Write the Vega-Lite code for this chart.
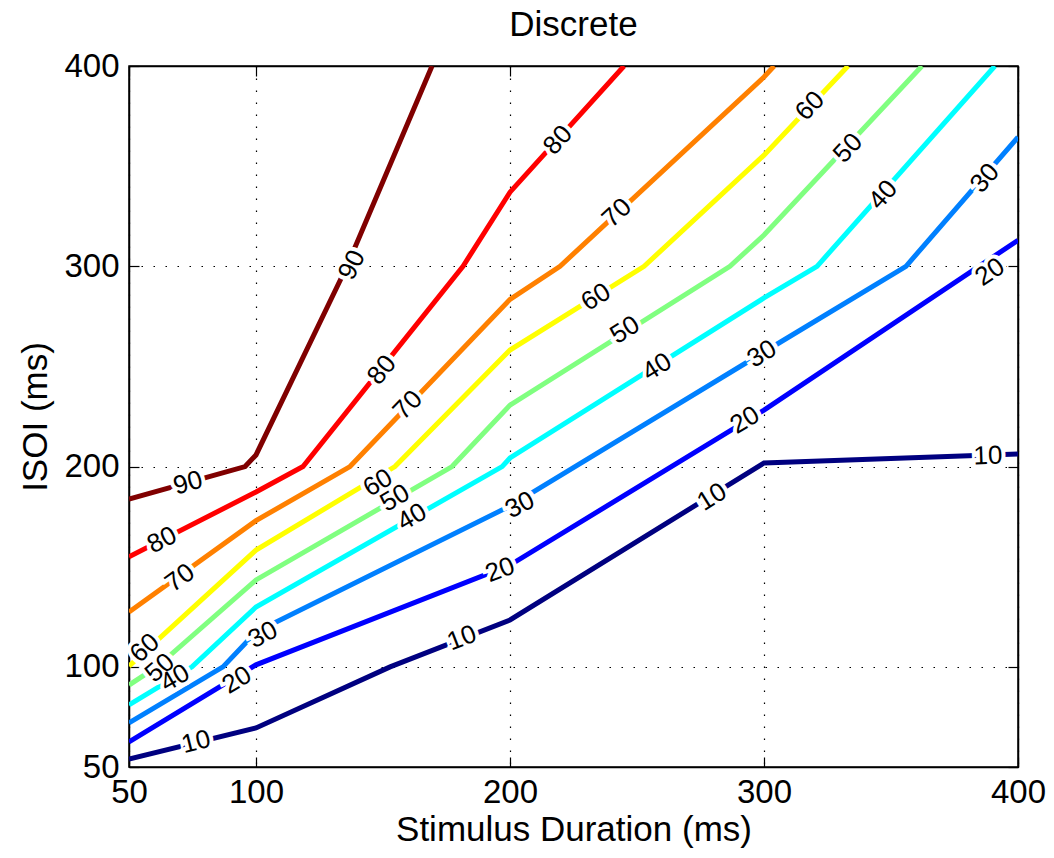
{
  "$schema": "https://vega.github.io/schema/vega-lite/v6.json",
  "width": 889,
  "height": 701,
  "autosize": {"type": "none"},
  "padding": {"left": 129, "top": 66, "right": 36, "bottom": 91},
  "background": "white",
  "title": {"text": "Discrete", "fontSize": 35, "font": "Liberation Sans", "fontWeight": "normal", "color": "black", "offset": 7},
  "config": {
    "view": {"stroke": "black", "strokeWidth": 1.5},
    "axis": {"domainColor": "black", "domainWidth": 1.5, "tickColor": "black", "labelColor": "black", "titleColor": "black", "labelFont": "Liberation Sans", "titleFont": "Liberation Sans", "titleFontWeight": "normal"}
  },
  "datasets": {
    "lines": [
      {"level": "90", "x": 50, "y": 183.8}, {"level": "90", "x": 95.7, "y": 200}, {"level": "90", "x": 100, "y": 205.8}, {"level": "90", "x": 135.8, "y": 300}, {"level": "90", "x": 169.3, "y": 400},
      {"level": "80", "x": 50, "y": 155}, {"level": "80", "x": 100, "y": 187.3}, {"level": "80", "x": 118.5, "y": 200}, {"level": "80", "x": 181.5, "y": 300}, {"level": "80", "x": 200, "y": 337}, {"level": "80", "x": 244.9, "y": 400},
      {"level": "70", "x": 50, "y": 127.4}, {"level": "70", "x": 100, "y": 173}, {"level": "70", "x": 137, "y": 200}, {"level": "70", "x": 200, "y": 283.5}, {"level": "70", "x": 219.7, "y": 300}, {"level": "70", "x": 300, "y": 394.5}, {"level": "70", "x": 304, "y": 400},
      {"level": "60", "x": 50, "y": 100.4}, {"level": "60", "x": 100, "y": 158.3}, {"level": "60", "x": 154.7, "y": 200}, {"level": "60", "x": 200, "y": 258.2}, {"level": "60", "x": 252.8, "y": 300}, {"level": "60", "x": 300, "y": 355.5}, {"level": "60", "x": 333.1, "y": 400},
      {"level": "50", "x": 50, "y": 90.9}, {"level": "50", "x": 61, "y": 100}, {"level": "50", "x": 100, "y": 143.4}, {"level": "50", "x": 177.2, "y": 200}, {"level": "50", "x": 200, "y": 230.7}, {"level": "50", "x": 286.6, "y": 300}, {"level": "50", "x": 300, "y": 315.6}, {"level": "50", "x": 362.2, "y": 400},
      {"level": "40", "x": 50, "y": 81}, {"level": "40", "x": 74.8, "y": 100}, {"level": "40", "x": 100, "y": 129.9}, {"level": "40", "x": 196.9, "y": 200}, {"level": "40", "x": 200, "y": 204.3}, {"level": "40", "x": 300, "y": 284.2}, {"level": "40", "x": 320.9, "y": 300}, {"level": "40", "x": 390.9, "y": 400},
      {"level": "30", "x": 50, "y": 72}, {"level": "30", "x": 87, "y": 100}, {"level": "30", "x": 100, "y": 117.4}, {"level": "30", "x": 200, "y": 180.3}, {"level": "30", "x": 300, "y": 257.2}, {"level": "30", "x": 355.9, "y": 300}, {"level": "30", "x": 400, "y": 364.5},
      {"level": "20", "x": 50, "y": 62.5}, {"level": "20", "x": 100, "y": 101}, {"level": "20", "x": 200, "y": 150.8}, {"level": "20", "x": 300, "y": 228.2}, {"level": "20", "x": 400, "y": 313},
      {"level": "10", "x": 50, "y": 54}, {"level": "10", "x": 100, "y": 69.5}, {"level": "10", "x": 152.8, "y": 100}, {"level": "10", "x": 200, "y": 123.4}, {"level": "10", "x": 300, "y": 201.8}, {"level": "10", "x": 400, "y": 206.3}
    ],
    "labels": [
      {"level": "90", "x": 73.2, "y": 191.8, "angle": -16},
      {"level": "90", "x": 137.8, "y": 300.6, "angle": -64},
      {"level": "80", "x": 63, "y": 163.3, "angle": -27},
      {"level": "80", "x": 149.6, "y": 248.2, "angle": -51},
      {"level": "80", "x": 218.9, "y": 363, "angle": -48},
      {"level": "70", "x": 70.1, "y": 144.4, "angle": -36},
      {"level": "70", "x": 159.8, "y": 230.7, "angle": -46},
      {"level": "70", "x": 242.1, "y": 326.6, "angle": -43},
      {"level": "60", "x": 56.3, "y": 109.4, "angle": -42},
      {"level": "60", "x": 148, "y": 191.8, "angle": -31},
      {"level": "60", "x": 233.9, "y": 284.6, "angle": -32},
      {"level": "60", "x": 318.1, "y": 380, "angle": -46},
      {"level": "50", "x": 62.2, "y": 99.4, "angle": -41},
      {"level": "50", "x": 154.7, "y": 184.3, "angle": -30},
      {"level": "50", "x": 245.3, "y": 268.2, "angle": -32},
      {"level": "50", "x": 333.1, "y": 359, "angle": -47},
      {"level": "40", "x": 68.1, "y": 94.4, "angle": -30},
      {"level": "40", "x": 161.4, "y": 174.8, "angle": -30},
      {"level": "40", "x": 257.9, "y": 249.7, "angle": -32},
      {"level": "40", "x": 346.9, "y": 335.6, "angle": -48},
      {"level": "30", "x": 102.8, "y": 115.9, "angle": -28},
      {"level": "30", "x": 203.9, "y": 180.8, "angle": -27},
      {"level": "30", "x": 299.2, "y": 256.2, "angle": -31},
      {"level": "30", "x": 387, "y": 344, "angle": -49},
      {"level": "20", "x": 92.5, "y": 93.4, "angle": -31},
      {"level": "20", "x": 196.1, "y": 148.4, "angle": -21},
      {"level": "20", "x": 292.5, "y": 223.2, "angle": -31},
      {"level": "20", "x": 389, "y": 297.1, "angle": -34},
      {"level": "10", "x": 76.4, "y": 62.5, "angle": -14},
      {"level": "10", "x": 181.1, "y": 114.4, "angle": -21},
      {"level": "10", "x": 279.5, "y": 184.8, "angle": -32},
      {"level": "10", "x": 388.2, "y": 205.3, "angle": -2}
    ]
  },
  "layer": [
    {
      "data": {"name": "lines"},
      "mark": {"type": "line", "strokeWidth": 5, "clip": true},
      "encoding": {
        "x": {"field": "x", "type": "quantitative", "scale": {"domain": [50, 400], "nice": false, "zero": false},
          "axis": {"orient": "bottom", "values": [50, 100, 200, 300, 400], "title": "Stimulus Duration (ms)", "titleFontSize": 35, "titlePadding": 3, "labelFontSize": 33, "labelPadding": 19, "tickSize": -10, "tickWidth": 1.2, "labelFlush": false, "labelOverlap": false, "grid": true, "gridDash": [1.5, 10.5], "gridColor": "black", "gridWidth": 1.2, "gridOpacity": 1}},
        "y": {"field": "y", "type": "quantitative", "scale": {"domain": [50, 400], "nice": false, "zero": false},
          "axis": {"orient": "left", "values": [50, 100, 200, 300, 400], "title": "ISOI (ms)", "titleFontSize": 35, "titlePadding": 10, "labelFontSize": 33, "labelPadding": 20, "tickSize": -10, "tickWidth": 1.2, "labelFlush": false, "labelOverlap": false, "grid": true, "gridDash": [1.5, 10.5], "gridColor": "black", "gridWidth": 1.2, "gridOpacity": 1}},
        "color": {"field": "level", "type": "nominal", "legend": null,
          "scale": {"domain": ["10", "20", "30", "40", "50", "60", "70", "80", "90"], "range": ["#000080", "#0000FF", "#0080FF", "#00FFFF", "#80FF80", "#FFFF00", "#FF8000", "#FF0000", "#800000"]}}
      }
    },
    {
      "data": {"name": "lines"},
      "mark": {"type": "point", "opacity": 0},
      "encoding": {
        "x": {"field": "x", "type": "quantitative", "axis": {"orient": "top", "values": [50, 100, 200, 300, 400], "labels": false, "title": null, "tickSize": -10, "tickWidth": 1.2, "grid": false}},
        "y": {"field": "y", "type": "quantitative", "axis": {"orient": "right", "values": [50, 100, 200, 300, 400], "labels": false, "title": null, "tickSize": -10, "tickWidth": 1.2, "grid": false}}
      }
    },
    {
      "data": {"name": "labels"},
      "mark": {"type": "text", "font": "Liberation Sans", "fontSize": 26, "stroke": "white", "strokeWidth": 8, "fill": "white", "align": "center", "baseline": "middle"},
      "encoding": {
        "x": {"field": "x", "type": "quantitative", "axis": null},
        "y": {"field": "y", "type": "quantitative", "axis": null},
        "text": {"field": "level"},
        "angle": {"field": "angle", "type": "quantitative", "scale": null}
      }
    },
    {
      "data": {"name": "labels"},
      "mark": {"type": "text", "font": "Liberation Sans", "fontSize": 26, "fill": "black", "align": "center", "baseline": "middle"},
      "encoding": {
        "x": {"field": "x", "type": "quantitative", "axis": null},
        "y": {"field": "y", "type": "quantitative", "axis": null},
        "text": {"field": "level"},
        "angle": {"field": "angle", "type": "quantitative", "scale": null}
      }
    }
  ],
  "resolve": {"axis": {"x": "independent", "y": "independent"}}
}
